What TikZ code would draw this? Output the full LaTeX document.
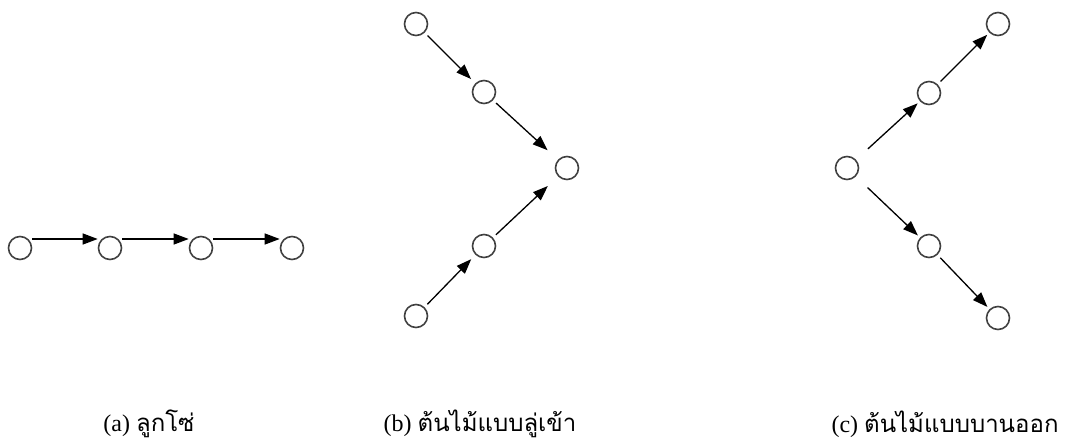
\documentclass[tikz,border=0pt]{standalone}
\usepackage{fontspec}
\setmainfont{Liberation Serif}
\newfontfamily\thaifont[Script=Thai]{Loma}
\usetikzlibrary{arrows.meta}
\begin{document}
\begin{tikzpicture}[x=1pt,y=-1pt,
  vtx/.style={circle,draw=black!75,line width=1.6pt,minimum size=23pt,inner sep=0pt},
  arr/.style={-{Triangle[length=15pt,width=11pt]},line width=1.3pt},
  lbl/.style={inner sep=0pt,font=\fontsize{24}{28}\selectfont}]
\useasboundingbox (0,0) rectangle (1079,441);
% (a)
\node[vtx] (a1) at (20,248) {};
\node[vtx] (a2) at (110,248) {};
\node[vtx] (a3) at (201,248) {};
\node[vtx] (a4) at (292,248) {};
\foreach \s/\t in {a1/a2,a2/a3,a3/a4}
  \draw[arr] ([yshift=9pt]\s.east) -- ([yshift=9pt]\t.west);
% (b)
\node[vtx] (b1) at (416,24) {};
\node[vtx] (b2) at (484,92) {};
\node[vtx] (b3) at (567,168) {};
\node[vtx] (b4) at (484,246) {};
\node[vtx] (b5) at (416,316) {};
\draw[arr,shorten <=4pt,shorten >=6pt] (b1) -- (b2);
\draw[arr,shorten <=4pt,shorten >=14pt] (b2) -- (b3);
\draw[arr,shorten <=4pt,shorten >=6pt] (b5) -- (b4);
\draw[arr,shorten <=4pt,shorten >=14pt] (b4) -- (b3);
% (c)
\node[vtx] (c1) at (847,168) {};
\node[vtx] (c2) at (929,93) {};
\node[vtx] (c3) at (998,24) {};
\node[vtx] (c4) at (929,246) {};
\node[vtx] (c5) at (998,318) {};
\draw[arr,shorten <=16pt,shorten >=3pt] (c1) -- (c2);
\draw[arr,shorten <=4pt,shorten >=3pt] (c2) -- (c3);
\draw[arr,shorten <=16pt,shorten >=3pt] (c1) -- (c4);
\draw[arr,shorten <=4pt,shorten >=3pt] (c4) -- (c5);
% labels
\node[lbl] (la) at (149,424) {(a) {\thaifont ลูกโซ่}};
\node[lbl] (lb) at (480,424) {(b) {\thaifont ต้นไม้แบบลู่เข้า}};
\node[lbl] (lc) at (945,424) {(c) {\thaifont ต้นไม้แบบบานออก}};
\end{tikzpicture}
\end{document}
